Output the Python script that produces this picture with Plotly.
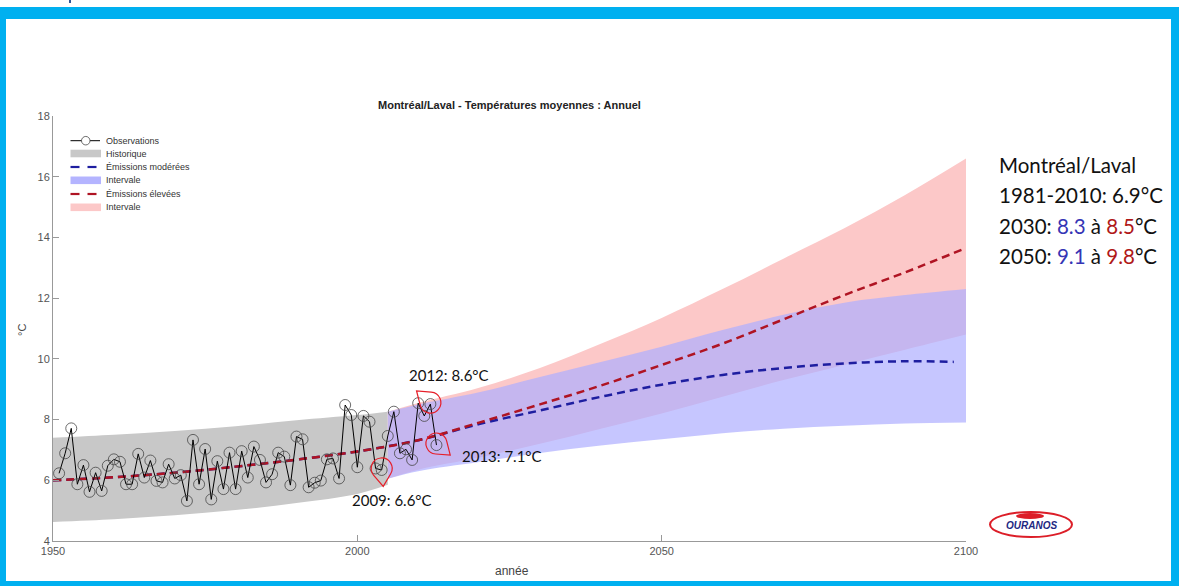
import math
import plotly.graph_objects as go

# ---------------- data ----------------
obs_years = list(range(1951, 2014))
obs_temp = [6.23, 6.89, 7.71, 5.87, 6.50, 5.62, 6.25, 5.65, 6.48, 6.69,
            6.61, 5.87, 5.87, 6.87, 6.09, 6.65, 5.98, 5.93, 6.53, 6.06,
            6.17, 5.32, 7.33, 5.87, 7.03, 5.37, 6.63, 5.71, 6.91, 5.71,
            6.96, 6.09, 7.11, 6.67, 5.93, 6.20, 6.91, 6.78, 5.84, 7.44,
            7.35, 5.77, 5.92, 5.99, 6.69, 6.72, 6.06, 8.48, 8.15, 6.43,
            8.12, 7.93, 6.39, 6.34, 7.46, 8.26, 6.89, 7.02, 6.67, 8.54,
            8.12, 8.51, 7.16]

hist_years = [1950, 1960, 1970, 1980, 1990, 2000, 2005]
hist_upper = [7.40, 7.50, 7.62, 7.78, 7.98, 8.15, 8.26]
hist_lower = [4.63, 4.72, 4.85, 5.02, 5.25, 5.55, 5.85]

mean_years = [1950, 1960, 1970, 1980, 1990, 2000, 2010, 2020, 2030, 2040,
              2050, 2060, 2070, 2080, 2090, 2098]
mean_years_hi = [1950, 1960, 1970, 1980, 1990, 2000, 2010, 2020, 2030, 2040,
                 2050, 2060, 2070, 2080, 2090, 2100]
mod_mean = [6.0, 6.1, 6.25, 6.45, 6.68, 6.95, 7.32, 7.85, 8.3, 8.75,
            9.15, 9.47, 9.7, 9.85, 9.92, 9.9]
high_mean = [6.0, 6.1, 6.25, 6.45, 6.68, 6.95, 7.32, 7.9, 8.5, 9.12,
             9.8, 10.5, 11.3, 12.1, 12.85, 13.65]

proj_years = [2005, 2010, 2020, 2030, 2040, 2050, 2060, 2070, 2080, 2090, 2100]
mod_upper = [8.26, 8.5, 8.9, 9.4, 9.9, 10.4, 10.95, 11.45, 11.85, 12.1, 12.3]
mod_lower = [6.05, 6.3, 6.6, 6.9, 7.15, 7.35, 7.55, 7.7, 7.8, 7.87, 7.9]
high_upper = [8.26, 8.55, 9.05, 9.7, 10.5, 11.35, 12.3, 13.3, 14.3, 15.4, 16.6]
high_lower = [6.05, 6.35, 6.75, 7.2, 7.7, 8.2, 8.75, 9.3, 9.8, 10.3, 10.8]

x_ticks = [1950, 2000, 2050, 2100]
y_ticks = [4, 6, 8, 10, 12, 14, 16, 18]

title = "Montréal/Laval - Températures moyennes : Annuel"
labels = ["Observations", "Historique", "Émissions modérées", "Intervale",
          "Émissions élevées", "Intervale"]

# ---------------- colours ----------------
C_GRAY = "rgb(200,200,200)"
C_PINK = "rgb(252,200,200)"
C_BLUEBAND = "rgba(174,174,255,0.7)"
C_BLUEBAND_LEG = "rgb(180,180,255)"
C_BLUE = "rgb(30,30,160)"
C_RED = "rgb(175,20,35)"

# ---------------- figure ----------------
W, H = 1179, 586
L, R, T, B = 53, 213, 116, 45
PW, PH = W - L - R, H - T - B


def px(xp):
    return (xp - L) / PW


def py(yp):
    return (H - B - yp) / PH


fig = go.Figure()


def band(xs, lo, hi, color):
    fig.add_trace(go.Scatter(x=xs, y=lo, mode="lines", showlegend=False,
                             line=dict(width=0, shape="spline"), hoverinfo="skip"))
    fig.add_trace(go.Scatter(x=xs, y=hi, mode="lines", showlegend=False, fill="tonexty",
                             fillcolor=color, line=dict(width=0, shape="spline"),
                             hoverinfo="skip"))


band(hist_years, hist_lower, hist_upper, C_GRAY)
band(proj_years, high_lower, high_upper, C_PINK)
band(proj_years, mod_lower, mod_upper, C_BLUEBAND)

fig.add_trace(go.Scatter(
    x=mean_years, y=mod_mean, mode="lines", name=labels[2], showlegend=False,
    line=dict(color=C_BLUE, width=2.5, dash="8px,5px", shape="spline")))
fig.add_trace(go.Scatter(
    x=mean_years_hi, y=high_mean, mode="lines", name=labels[4], showlegend=False,
    line=dict(color=C_RED, width=2.5, dash="8px,5px", shape="spline")))
fig.add_trace(go.Scatter(
    x=obs_years, y=obs_temp, mode="lines+markers", name=labels[0], showlegend=False,
    line=dict(color="black", width=1),
    marker=dict(symbol="circle-open", size=11, color="rgb(70,70,70)",
                line=dict(width=0.8))))

shapes = []
annotations = []
blue = "#00b0f0"
# frame
for (x0, x1, y0, y1) in [(0, W, 7, 19), (0, 6, 7, H), (1171, W, 7, H), (0, W, 581, H)]:
    shapes.append(dict(type="rect", xref="paper", yref="paper", x0=px(x0), x1=px(x1),
                       y0=py(y0), y1=py(y1), fillcolor=blue, line_width=0, layer="above"))
shapes.append(dict(type="rect", xref="paper", yref="paper", x0=px(69), x1=px(71),
                   y0=py(0), y1=py(3), fillcolor="#2f5597", line_width=0, layer="above"))

# manual legend (compact rows like the original)
leg_rows = [140.7, 153.5, 167.0, 180.3, 194.0, 207.3]
lx0, lx1, ltx = 70.5, 100, 104
kinds = ["obs", "fill", "dash", "fill", "dash", "fill"]
kcol = ["black", C_GRAY, C_BLUE, C_BLUEBAND_LEG, C_RED, C_PINK]
for yy, kind, col, lab in zip(leg_rows, kinds, kcol, labels):
    if kind == "obs":
        shapes.append(dict(type="line", xref="paper", yref="paper", x0=px(lx0), x1=px(lx1),
                           y0=py(yy), y1=py(yy), line=dict(color="black", width=1)))
        shapes.append(dict(type="circle", xref="paper", yref="paper", x0=px(81.5), x1=px(90),
                           y0=py(yy - 4.25), y1=py(yy + 4.25), fillcolor="white",
                           line=dict(color="rgb(70,70,70)", width=0.8)))
    elif kind == "fill":
        shapes.append(dict(type="rect", xref="paper", yref="paper", x0=px(lx0), x1=px(lx1 + 1),
                           y0=py(yy - 3.8), y1=py(yy + 3.8), fillcolor=col, line_width=0))
    else:
        for a, b in [(lx0, 79.5), (87.5, 96.5)]:
            shapes.append(dict(type="line", xref="paper", yref="paper", x0=px(a), x1=px(b),
                               y0=py(yy), y1=py(yy), line=dict(color=col, width=2.2)))
    annotations.append(dict(x=px(ltx), y=py(yy), xref="paper", yref="paper", text=lab,
                            showarrow=False, xanchor="left", yanchor="middle",
                            font=dict(family="Liberation Sans, Arial", size=9, color="#333")))


def pin_path(r, d, ang_deg):
    a = math.radians(ang_deg)
    tip = (d * math.cos(a), d * math.sin(a))
    t = math.acos(r / d)
    start = a + t
    end = a - t + 2 * math.pi
    n = 4
    step = (end - start) / n
    k = 4 / 3 * math.tan(step / 4)
    p0 = (r * math.cos(start), r * math.sin(start))
    s = "M%.2f,%.2f L%.2f,%.2f" % (tip[0], tip[1], p0[0], p0[1])
    for i in range(n):
        a0 = start + i * step
        a1 = a0 + step
        c1 = (r * (math.cos(a0) - k * math.sin(a0)), r * (math.sin(a0) + k * math.cos(a0)))
        c2 = (r * (math.cos(a1) + k * math.sin(a1)), r * (math.sin(a1) - k * math.cos(a1)))
        e = (r * math.cos(a1), r * math.sin(a1))
        s += " C%.2f,%.2f %.2f,%.2f %.2f,%.2f" % (c1[0], c1[1], c2[0], c2[1], e[0], e[1])
    return s + " Z"


pins = [(2004, obs_temp[2004 - 1951] + 0.05, -85), (2012, obs_temp[2012 - 1951] + 0.05, 140),
        (2013, obs_temp[2013 - 1951] + 0.05, -40)]
for yr, val, ang in pins:
    shapes.append(dict(type="path", xref="x", yref="y", xsizemode="pixel",
                       ysizemode="pixel", xanchor=yr, yanchor=val,
                       path=pin_path(10.5, 18, ang),
                       line=dict(color="rgb(230,30,40)", width=1.2), layer="above"))

# logo
shapes.append(dict(type="circle", xref="paper", yref="paper", x0=px(990), x1=px(1072),
                   y0=py(537), y1=py(512), line=dict(color="rgb(220,30,40)", width=2)))
shapes.append(dict(type="circle", xref="paper", yref="paper", x0=px(1016), x1=px(1044),
                   y0=py(519), y1=py(513), fillcolor="rgb(220,30,40)", line_width=0))

annotations += [
    dict(x=0.5, y=py(105), xref="paper", yref="paper", text="<b>" + title + "</b>",
         showarrow=False, font=dict(family="Liberation Sans, Arial", size=11, color="#222"),
         xanchor="center", yanchor="middle"),
    dict(x=px(512), y=py(571), xref="paper", yref="paper", text="année",
         showarrow=False, font=dict(family="Liberation Sans, Arial", size=12, color="#444"),
         xanchor="center", yanchor="middle"),
    dict(x=px(22), y=py(330), xref="paper", yref="paper", text="°C", textangle=-90,
         showarrow=False, font=dict(family="Liberation Sans, Arial", size=11, color="#444"),
         xanchor="center", yanchor="middle"),
    dict(x=px(407), y=py(375), xref="paper", yref="paper", text="2012: 8.6°C",
         showarrow=False, font=dict(family="Lato", size=15, color="#111"),
         xanchor="left", yanchor="middle"),
    dict(x=px(460), y=py(456), xref="paper", yref="paper", text="2013: 7.1°C",
         showarrow=False, font=dict(family="Lato", size=15, color="#111"),
         xanchor="left", yanchor="middle"),
    dict(x=px(350), y=py(500), xref="paper", yref="paper", text="2009: 6.6°C",
         showarrow=False, font=dict(family="Lato", size=15, color="#111"),
         xanchor="left", yanchor="middle"),
    dict(x=px(1031), y=py(525), xref="paper", yref="paper", text="<b><i>OURANOS</i></b>",
         showarrow=False, font=dict(family="Liberation Sans, Arial", size=10, color="rgb(30,40,130)"),
         xanchor="center", yanchor="middle"),
]
right_lines = [
    "Montréal/Laval",
    "1981-2010: 6.9°C",
    "2030: <span style='color:#3535b5'>8.3</span> à <span style='color:#b01818'>8.5</span>°C",
    "2050: <span style='color:#3535b5'>9.1</span> à <span style='color:#b01818'>9.8</span>°C",
]
for i, t in enumerate(right_lines):
    annotations.append(dict(x=px(997), y=py(165 + i * 30.3), xref="paper", yref="paper",
                            text=t, showarrow=False,
                            font=dict(family="Lato", size=20.5, color="#111"),
                            xanchor="left", yanchor="middle"))

fig.update_layout(
    width=W, height=H, margin=dict(l=L, r=R, t=T, b=B, autoexpand=False),
    paper_bgcolor="white", plot_bgcolor="white",
    shapes=shapes, annotations=annotations, showlegend=False,
    xaxis=dict(range=[1950, 2100], tickvals=x_ticks, showgrid=False, zeroline=False,
               showline=True, linecolor="#999", linewidth=1, ticks="inside",
               ticklen=6, tickcolor="#999",
               tickfont=dict(family="Liberation Sans, Arial", size=11, color="#555")),
    yaxis=dict(range=[4, 18], tickvals=y_ticks, showgrid=False, zeroline=False,
               showline=True, linecolor="#999", linewidth=1, ticks="inside",
               ticklen=6, tickcolor="#999",
               tickfont=dict(family="Liberation Sans, Arial", size=11, color="#555")),
)

fig.write_html("out.html", config={"displayModeBar": False},
               post_script="document.body.style.margin='0px';")
